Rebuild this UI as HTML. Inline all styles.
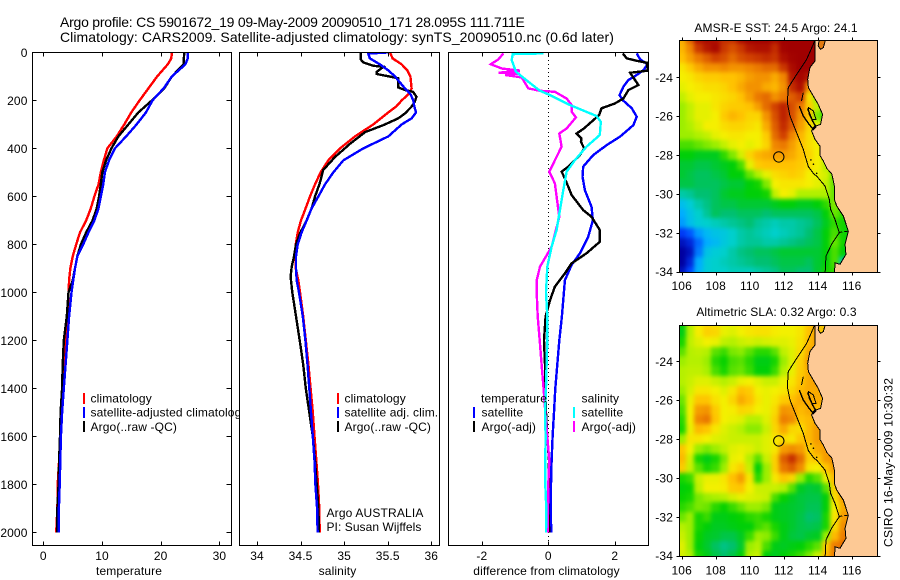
<!DOCTYPE html>
<html lang="en">
<head>
<meta charset="utf-8">
<title>Argo profile CS 5901672_19</title>
<style>
html,body{margin:0;padding:0;background:#fff;}
svg{display:block;}
text{font-family:"Liberation Sans",Arial,sans-serif;font-size:12px;fill:#000;letter-spacing:.12px;}
.box{fill:none;stroke:#000;stroke-width:1;shape-rendering:crispEdges;}
.bg{fill:#fff;}
.mk{shape-rendering:crispEdges;}
.line{fill:none;stroke-width:2.4;stroke-linejoin:miter;shape-rendering:crispEdges;}
.tick{stroke:#000;stroke-width:1;shape-rendering:crispEdges;}
.coast{fill:none;stroke:#000;stroke-width:1;shape-rendering:crispEdges;}
</style>
</head>
<body>
<svg id="figure" xmlns="http://www.w3.org/2000/svg" width="900" height="580" viewBox="0 0 900 580">
<defs>
<clipPath id="clip-temp"><rect x="32.5" y="52.5" width="199" height="493"/></clipPath>
<clipPath id="clip-sal"><rect x="239.5" y="52.5" width="200" height="493"/></clipPath>
<clipPath id="clip-diff"><rect x="448.5" y="52.5" width="200" height="493"/></clipPath>
<clipPath id="clip-sst"><rect x="679.5" y="40.5" width="198" height="232"/></clipPath>
<clipPath id="clip-sla"><rect x="679.5" y="325.5" width="198" height="231"/></clipPath>
<filter id="smooth" x="-5%" y="-5%" width="110%" height="110%" color-interpolation-filters="sRGB"><feGaussianBlur stdDeviation="2"/></filter>
</defs>

<rect x="0" y="0" width="900" height="580" fill="#fff"/>
<text x="60" y="27" style="font-size:14px" textLength="465">Argo profile: CS 5901672_19 09-May-2009 20090510_171 28.095S 111.711E</text>
<text x="60" y="42" style="font-size:14px" textLength="554">Climatology: CARS2009. Satellite-adjusted climatology: synTS_20090510.nc (0.6d later)</text>

<g>
<rect class="bg" x="32.5" y="52.5" width="199" height="493"/>
<g id="temp-series" clip-path="url(#clip-temp)"></g>
<rect class="box" x="32.5" y="52.5" width="199" height="493"/>
<g id="temp-ticks"></g>
<text x="129" y="575" text-anchor="middle">temperature</text>
<g>
<rect class="mk" x="83" y="393" width="2" height="11" fill="#f00"/>
<text x="90.5" y="402.5">climatology</text>
<rect class="mk" x="83" y="407" width="2" height="11" fill="#00f"/>
<text x="90.5" y="416.5">satellite-adjusted climatology</text>
<rect class="mk" x="83" y="421" width="2" height="11" fill="#000"/>
<text x="90.5" y="431">Argo(..raw -QC)</text>
</g>
</g>

<g>
<rect class="bg" x="239.5" y="52.5" width="200" height="493"/>
<g id="sal-series" clip-path="url(#clip-sal)"></g>
<rect class="box" x="239.5" y="52.5" width="200" height="493"/>
<g id="sal-ticks"></g>
<text x="337.5" y="575" text-anchor="middle">salinity</text>
<g>
<rect class="mk" x="337" y="393" width="2" height="11" fill="#f00"/>
<text x="344.5" y="402.5">climatology</text>
<rect class="mk" x="337" y="407" width="2" height="11" fill="#00f"/>
<text x="344.5" y="416.5">satellite adj. clim.</text>
<rect class="mk" x="337" y="421" width="2" height="11" fill="#000"/>
<text x="344.5" y="431">Argo(..raw -QC)</text>
</g>
<text x="326.5" y="517" textLength="97">Argo AUSTRALIA</text>
<text x="326.5" y="531" textLength="95">PI: Susan Wijffels</text>
</g>

<g>
<rect class="bg" x="448.5" y="52.5" width="200" height="493"/>
<g id="diff-series" clip-path="url(#clip-diff)"></g>
<rect class="box" x="448.5" y="52.5" width="200" height="493"/>
<g id="diff-ticks"></g>
<text x="546.5" y="575" text-anchor="middle">difference from climatology</text>
<g>
<text x="481" y="402.5">temperature</text>
<rect class="mk" x="473" y="407" width="2" height="11" fill="#00f"/>
<text x="481.5" y="416.5">satellite</text>
<rect class="mk" x="473" y="421" width="2" height="11" fill="#000"/>
<text x="481.5" y="431">Argo(-adj)</text>
<text x="581.5" y="402.5">salinity</text>
<rect class="mk" x="573" y="407" width="2" height="11" fill="#0ff"/>
<text x="581.5" y="416.5">satellite</text>
<rect class="mk" x="573" y="421" width="2" height="11" fill="#f0f"/>
<text x="581.5" y="431">Argo(-adj)</text>
</g>
</g>

<g>
<text x="776" y="32" text-anchor="middle">AMSR-E SST: 24.5 Argo: 24.1</text>
<rect x="679.5" y="40.5" width="198" height="232" fill="#fdc995"/>
<g id="sst-cells" clip-path="url(#clip-sst)" filter="url(#smooth)"></g>
<g id="sst-geo" clip-path="url(#clip-sst)"></g>
<rect class="box" x="679.5" y="40.5" width="198" height="232"/>
<g id="sst-ticks"></g>
</g>

<g>
<text x="776.5" y="316" text-anchor="middle">Altimetric SLA: 0.32 Argo: 0.3</text>
<rect x="679.5" y="325.5" width="198" height="231" fill="#fdc995"/>
<g id="sla-cells" clip-path="url(#clip-sla)" filter="url(#smooth)"></g>
<g id="sla-geo" clip-path="url(#clip-sla)"></g>
<rect class="box" x="679.5" y="325.5" width="198" height="231"/>
<g id="sla-ticks"></g>
</g>

<text transform="translate(892.5,462.5) rotate(-90)" text-anchor="middle" textLength="169">CSIRO 16-May-2009 10:30:32</text>
</svg>

<script>
/* ---------- profile data ---------- */
const tempDepths = [0,25,50,100,150,200,250,300,350,400,450,500,550,600,650,700,750,800,850,900,950,1000,1100,1200,1300,1400,1500,1600,1700,1800,1900,2000];
const tempClimatology = [21.9,21.8,21.2,19.4,17.9,16.4,15.0,13.8,12.5,10.9,10.3,9.8,9.4,8.7,8.1,7.3,6.25,5.6,5.0,4.6,4.4,4.3,4.15,3.9,3.7,3.4,3.2,2.95,2.7,2.45,2.4,2.2];
const tempSatellite = [24.6,24.6,24.2,21.9,20.5,18.6,17.5,15.9,14.1,12.2,11.2,10.5,10.2,9.8,9.4,8.7,7.7,6.8,5.8,5.4,5.1,4.8,4.4,4.1,3.8,3.5,3.2,3.0,2.9,2.8,2.65,2.6];
const tempArgo = [24.0,23.95,23.9,21.9,20.6,18.5,16.2,14.5,12.8,11.6,10.7,10.05,9.8,9.5,9.1,8.4,7.3,6.4,5.8,5.4,5.0,4.3,4.0,3.5,3.3,3.2,2.95,2.85,2.7,2.6,2.4,2.35];

const salClimDepths = [0,25,50,75,100,150,175,200,225,250,300,350,400,450,500,550,600,650,700,750,800,850,900,950,1000,1100,1200,1300,1400,1500,1600,1700,1800,1900,2000];
const salClimatology = [35.526,35.556,35.66,35.725,35.76,35.774,35.736,35.66,35.60,35.507,35.335,35.124,34.952,34.818,34.73,34.665,34.608,34.558,34.505,34.467,34.444,34.444,34.444,34.474,34.493,34.53,34.56,34.59,34.615,34.64,34.66,34.68,34.70,34.715,34.72];
const salSatDepths = [0,5,25,50,75,100,125,150,175,200,225,250,275,300,350,400,450,500,550,600,650,700,750,800,850,900,950,1000,1100,1200,1300,1400,1500,1600,1700,1800,1900,2000];
const salSatellite = [35.507,35.277,35.296,35.411,35.507,35.583,35.64,35.698,35.763,35.793,35.805,35.824,35.774,35.66,35.507,35.22,34.99,34.876,34.78,34.704,34.627,34.57,34.512,34.467,34.447,34.447,34.455,34.482,34.525,34.555,34.58,34.60,34.62,34.64,34.66,34.67,34.69,34.695];
const salArgoDepths = [0,29,42,56,60,81,90,101,108,146,157,164,185,206,226,254,275,303,332,381,436,490,546,601,650,699,754,800,851,893,935,1000,1100,1200,1300,1400,1500,1600,1700,1800,1900,2000];
const salArgo = [35.19,35.19,35.22,35.335,35.45,35.373,35.373,35.526,35.62,35.62,35.70,35.79,35.83,35.81,35.774,35.698,35.62,35.45,35.24,35.067,34.895,34.76,34.72,34.665,34.627,34.57,34.493,34.447,34.424,34.398,34.386,34.405,34.447,34.49,34.53,34.56,34.60,34.64,34.665,34.685,34.705,34.71];

const diffTempSatDepths = [4,29,49,74,94,115,143,178,199,233,268,303,351,386,428,476,518,574,643,699,768,837,886,949,1000,1100,1200,1300,1400,1500,1600,1700,1800,1900,2000];
const diffTempSat = [2.66,2.76,2.98,2.86,2.66,2.41,2.26,2.14,2.24,2.51,2.66,2.56,2.16,1.76,1.35,1.05,1.03,1.10,1.30,1.34,1.20,0.95,0.70,0.50,0.47,0.41,0.33,0.27,0.21,0.17,0.13,0.10,0.08,0.07,0.09];
const diffTempArgoDepths = [4,25,35,43,76,85,136,157,192,213,233,261,317,338,358,372,400,428,476,497,525,594,657,685,740,789,837,879,921,976,1033,1100,1200,1300,1400,1500,1600,1700,1800,1900,2000];
const diffTempArgo = [2.24,2.36,2.66,2.96,3.0,2.46,2.71,2.41,2.26,2.0,1.6,1.53,1.07,0.85,1.0,0.98,1.08,0.95,0.6,0.4,0.5,0.7,1.05,1.3,1.55,1.55,1.15,0.7,0.5,0.2,0.05,-0.08,-0.13,-0.1,-0.1,-0.07,-0.03,0.02,0.01,0,0.03];
const diffSalSatDepths = [4,7,32,81,122,160,178,219,265,289,344,393,449,497,574,657,740,810,893,1000,1100,1200,1300,1400,1500,1600,1700,1800,1900,2000];
const diffSalSat = [-0.15,-1.07,-1.10,-0.97,-0.60,-0.25,0.05,0.65,1.45,1.58,1.55,1.15,0.80,0.55,0.45,0.35,0.25,0.10,-0.03,-0.07,-0.03,-0.03,-0.05,-0.07,-0.1,-0.08,-0.09,-0.09,-0.06,-0.07];
const diffSalArgoDepths = [4,29,49,67,76,85,88,94,104,150,160,164,192,219,247,271,317,338,393,435,497,546,601,685,810,893,949,1000,1100,1200,1300,1400,1500,1600,1700,1800,1900,2000];
const diffSalArgo = [-1.35,-1.5,-1.73,-1.4,-0.85,-1.5,-0.85,-1.3,-0.8,-0.6,-0.25,0.2,0.55,0.7,0.7,0.83,0.55,0.33,0.4,0.25,0.03,0.2,0.25,0.33,0.1,-0.25,-0.35,-0.35,-0.32,-0.26,-0.2,-0.14,-0.09,-0.03,0.03,0,-0.01,-0.01];

/* ---------- tick labels ---------- */
const depthTicks = [0,200,400,600,800,1000,1200,1400,1600,1800,2000];
const tempTicks = [0,10,20,30];
const salTicks = [34,34.5,35,35.5,36];
const diffTicks = [-2,0,2];
const lonTicks = [106,108,110,112,114,116];
const latTicks = [24,26,28,30,32,34];

/* ---------- map data: rows at 22, 22.5 ... 34 S; columns at 106, 106.5 ... E ---------- */
const sstRow22 = [24.8,25.4,26.1,26.3,26.1,25.8,25.8,26.4,26.6,26.6,26.6,26.3,26.6,26.6,26.6,26.6,26.6];
const sstRow22h = [24.7,25.1,25.7,26.0,26.3,25.7,25.5,25.7,26.0,26.1,26.1,25.8,26.5,26.6,26.6,26.6,26.6];
const sstRow23 = [24.6,24.9,25.2,25.4,25.6,25.5,25.3,25.5,25.6,25.7,25.8,25.7,26.1,26.5,26.6,26.6,26.6];
const sstRow23h = [24.2,24.5,24.8,25.0,25.0,25.1,25.0,25.0,25.1,25.2,25.3,25.3,25.7,26.2,26.6,26.6];
const sstRow24 = [24.1,24.2,24.4,24.5,24.5,24.6,24.6,24.7,24.9,25.0,25.0,24.8,25.1,26.0,26.4,26.0];
const sstRow24h = [24.0,24.1,24.2,24.3,24.3,24.4,24.6,24.8,25.0,25.0,24.8,24.7,25.0,25.8,26.1,25.0,24.5];
const sstRow25 = [23.8,24.0,24.1,24.1,24.2,24.3,24.4,24.6,24.9,25.2,25.3,25.0,25.2,25.4,25.6,24.3,23.6,23.4];
const sstRow25h = [23.6,23.8,24.0,24.0,24.2,24.4,24.5,24.5,24.6,24.9,25.3,25.6,25.9,25.5,25.2,24.5,23.8,23.0,23.0];
const sstRow26 = [23.6,23.8,24.0,24.0,24.1,24.5,24.7,24.6,24.4,24.4,25.0,25.5,25.9,25.5,25.0,24.6,23.5,23.0,23.0];
const sstRow26h = [23.6,23.7,23.9,24.1,24.1,24.3,24.4,24.4,24.3,24.2,24.8,25.4,25.8,25.4,24.9,24.4,24.0,23.6];
const sstRow27 = [23.6,23.6,23.7,23.8,24.0,24.1,24.2,24.2,24.1,24.1,24.5,25.3,25.6,25.1,24.7,24.3,24.0,23.8];
const sstRow27h = [23.3,23.3,23.4,23.5,23.6,23.8,24.0,24.1,24.0,24.1,24.4,25.1,25.2,24.9,24.6,24.3,24.1,23.8];
const sstRow28 = [23.0,23.0,22.9,22.9,22.9,23.2,23.5,23.9,24.4,24.7,24.8,24.9,24.9,24.8,24.6,24.4,24.1,23.8];
const sstRow28h = [22.8,22.8,22.7,22.7,22.8,22.9,23.0,23.3,24.0,24.5,24.6,24.6,24.6,24.6,24.5,24.3,24.1,23.7,23.6];
const sstRow29 = [22.8,22.7,22.6,22.6,22.7,22.8,23.0,23.0,23.4,23.7,24.0,24.3,24.4,24.5,24.4,24.1,24.0,23.9,23.4,23.4];
const sstRow29h = [22.7,22.7,22.6,22.6,22.6,22.7,22.8,22.8,23.0,23.1,23.5,24.1,24.2,24.2,24.2,24.1,24.0,23.8,23.4,23.4];
const sstRow30 = [22.2,22.3,22.5,22.5,22.6,22.8,22.9,22.9,23.0,23.0,23.1,23.8,24.1,24.0,23.7,23.7,23.7,23.7,23.4,23.4];
const sstRow30h = [21.6,21.9,22.2,22.4,22.6,22.7,22.7,22.8,22.8,22.8,22.8,22.9,23.0,23.0,22.9,22.9,23.0,23.2,23.5,23.4];
const sstRow31 = [21.3,21.7,22.0,22.3,22.6,22.5,22.5,22.6,22.6,22.6,22.5,22.6,22.6,22.6,22.6,22.6,22.7,23.0,23.4,23.2,23.1];
const sstRow31h = [21.2,21.6,21.9,22.0,22.1,22.2,22.3,22.4,22.5,22.3,22.2,22.1,22.2,22.2,22.3,22.4,22.6,22.9,23.2,23.1,23.0];
const sstRow32 = [20.6,20.8,21.2,21.5,21.7,21.8,22.0,22.2,22.3,22.2,22.1,22.0,22.1,22.2,22.3,22.5,22.7,23.0,23.3,23.1,23.0];
const sstRow32h = [20.2,20.4,20.9,21.3,21.5,21.8,22.0,22.2,22.3,22.3,22.2,22.2,22.3,22.4,22.5,22.6,22.7,23.0,23.4,23.1,23.0];
const sstRow33 = [20.0,20.2,21.0,21.7,21.9,22.0,22.2,22.4,22.5,22.6,22.6,22.7,22.8,22.8,22.8,22.8,22.8,23.0,23.3,23.0,22.8];
const sstRow33h = [20.0,20.4,21.3,21.9,22.0,22.1,22.2,22.3,22.4,22.5,22.5,22.6,22.7,22.7,22.7,22.6,22.8,23.0,23.3,22.2,22.2];
const sstRow34 = [20.2,20.7,21.4,21.9,22.0,22.0,22.1,22.1,22.1,22.2,22.3,22.4,22.6,22.6,22.5,22.5,22.8,23.1,23.2,23.2];
const sstRows = [sstRow22,sstRow22h,sstRow23,sstRow23h,sstRow24,sstRow24h,sstRow25,sstRow25h,sstRow26,sstRow26h,sstRow27,sstRow27h,sstRow28,sstRow28h,sstRow29,sstRow29h,sstRow30,sstRow30h,sstRow31,sstRow31h,sstRow32,sstRow32h,sstRow33,sstRow33h,sstRow34];

const slaRow22 = [.10,.22,.28,.33,.30,.27,.27,.30,.31,.32,.31,.30,.28,.28,.30,.36,.42,.42];
const slaRow22h = [.09,.22,.29,.34,.33,.27,.26,.28,.30,.31,.31,.29,.28,.28,.30,.37,.42,.42];
const slaRow23 = [.12,.23,.26,.28,.27,.23,.22,.24,.25,.24,.25,.26,.26,.27,.31,.38,.42,.42];
const slaRow23h = [.16,.22,.23,.22,.16,.14,.18,.19,.16,.13,.13,.16,.23,.26,.32,.40,.40];
const slaRow24 = [.20,.22,.22,.20,.13,.11,.15,.16,.13,.09,.09,.12,.20,.26,.34,.42,.42];
const slaRow24h = [.22,.23,.23,.21,.15,.12,.16,.17,.14,.10,.10,.14,.22,.27,.35,.40,.40];
const slaRow25 = [.22,.24,.26,.26,.24,.22,.24,.27,.28,.26,.24,.24,.27,.30,.36,.40,.42,.42];
const slaRow25h = [.20,.25,.30,.30,.28,.26,.30,.37,.35,.28,.27,.28,.30,.33,.38,.40,.40,.40,.40];
const slaRow26 = [.17,.27,.36,.36,.31,.28,.33,.40,.37,.30,.27,.30,.35,.37,.40,.40,.40,.40,.40];
const slaRow26h = [.15,.28,.42,.43,.35,.28,.29,.33,.32,.28,.27,.32,.43,.42,.38,.40,.38,.38];
const slaRow27 = [.13,.28,.45,.47,.36,.28,.27,.26,.22,.22,.26,.34,.46,.44,.36,.38,.40,.40];
const slaRow27h = [.12,.27,.38,.36,.30,.26,.24,.22,.19,.19,.24,.33,.40,.33,.32,.38,.42,.42];
const slaRow28 = [.20,.30,.30,.28,.26,.25,.24,.24,.24,.24,.26,.30,.32,.30,.36,.38,.42,.42];
const slaRow28h = [.36,.28,.20,.18,.20,.23,.26,.27,.26,.24,.26,.30,.42,.44,.42,.34,.40,.42,.42];
const slaRow29 = [.38,.25,.12,.09,.12,.18,.27,.28,.22,.16,.24,.34,.50,.56,.48,.34,.36,.42,.44,.44];
const slaRow29h = [.35,.24,.16,.12,.14,.20,.30,.34,.24,.10,.20,.34,.47,.50,.44,.30,.28,.36,.42,.44];
const slaRow30 = [.12,.14,.24,.27,.27,.30,.37,.42,.30,.13,.20,.30,.36,.33,.20,.13,.16,.27,.38,.42];
const slaRow30h = [.10,.11,.23,.28,.28,.29,.35,.36,.28,.24,.24,.24,.22,.16,.08,.06,.07,.16,.34,.42];
const slaRow31 = [.11,.12,.18,.20,.21,.22,.25,.27,.26,.25,.24,.15,.11,.08,.06,.05,.05,.10,.32,.42,.42];
const slaRow31h = [.13,.15,.18,.17,.13,.11,.14,.17,.20,.20,.18,.09,.08,.07,.06,.04,.04,.10,.28,.40,.42];
const slaRow32 = [.17,.20,.12,.14,.09,.09,.10,.11,.13,.14,.12,.09,.08,.07,.05,.02,.03,.12,.30,.42,.44];
const slaRow32h = [.22,.20,.12,.10,.08,.08,.09,.10,.10,.14,.16,.12,.09,.07,.05,.04,.05,.12,.32,.44,.46];
const slaRow33 = [.24,.20,.11,.08,.07,.05,.05,.08,.14,.20,.19,.14,.09,.06,.05,.07,.08,.20,.38,.46,.46];
const slaRow33h = [.26,.20,.10,.07,.03,.00,.02,.07,.20,.22,.15,.09,.08,.09,.10,.13,.16,.34,.46,.48,.48];
const slaRow34 = [.25,.22,.12,.09,.05,.02,.05,.10,.22,.24,.10,.08,.10,.12,.14,.18,.24,.38,.46,.46];
const slaRows = [slaRow22,slaRow22h,slaRow23,slaRow23h,slaRow24,slaRow24h,slaRow25,slaRow25h,slaRow26,slaRow26h,slaRow27,slaRow27h,slaRow28,slaRow28h,slaRow29,slaRow29h,slaRow30,slaRow30h,slaRow31,slaRow31h,slaRow32,slaRow32h,slaRow33,slaRow33h,slaRow34];

/* ---------- geography (degrees E, degrees S) ---------- */
const coastLon = [113.84,113.84,113.54,113.41,113.45,113.74,114.03,114.29,114.17,113.78,113.64,113.84,114.13,114.13,114.33,114.55,114.82,114.86,114.98,114.98,115.12,115.51,115.80,115.61,115.66,115.31,115.02,114.98];
const coastLat = [22.05,23.16,23.50,24.10,24.53,24.96,25.39,25.91,26.42,26.54,26.76,27.19,27.54,28.02,28.30,28.70,28.95,29.08,29.59,30.28,30.62,31.14,31.91,32.59,33.11,33.62,33.54,34.2];
const isobathLon = [113.84,113.74,113.35,112.76,112.27,112.21,112.37,112.76,113.15,113.25,113.45,113.80,113.94,114.43,114.68,114.76,115.02,115.27,114.82,114.49,114.43];
const isobathLat = [22.05,22.30,23.08,23.85,24.53,25.31,25.99,26.85,27.71,28.02,28.60,29.00,29.08,29.59,30.28,30.79,31.31,32.00,32.59,33.19,34.2];
const gulfLon = [114.09,114.47,114.33,114.17,114.03];
const gulfLat = [22.05,22.05,22.47,22.56,22.39];
const bayNorthLon = [113.15,113.05];
const bayNorthLat = [24.79,25.22];
const bayLon = [112.92,113.15,113.45,113.74,113.90,113.70,113.40];
const bayLat = [25.48,25.99,26.37,26.68,26.55,26.25,25.60];
const bayIslandLon = [113.45,113.74,113.90,113.64,113.50,113.45];
const bayIslandLat = [25.56,25.73,26.16,26.16,25.90,25.56];
const rottnestLon = [115.27,115.80];
const rottnestLat = [31.98,31.91];
const abrolhosLon = [113.60,113.75,113.94];
const abrolhosLat = [28.25,28.47,28.94];
const floatLon = 111.711;
const floatLat = 28.095;

/* ---------- axis functions ---------- */
const depthY = d => 52.4 + d * 0.24;
const tempX = t => 43.3 + t * 5.87;
const salX = s => 257 + (s - 34) * 87.15;
const diffX = v => 548.3 + v * 33.25;
const lonX = lon => 681.7 + (lon - 106) * 17;
const sstY = lat => 77.3 + (lat - 24) * 19.44;
const slaY = lat => 361.3 + (lat - 24) * 19.44;

const NS = 'http://www.w3.org/2000/svg';
function add(parent, tag, attrs) {
  const el = document.createElementNS(NS, tag);
  for (const k in attrs) el.setAttribute(k, attrs[k]);
  parent.appendChild(el);
  return el;
}
function seriesPath(xs, ds, xf) {
  return xs.map((v, i) => (i ? 'L' : 'M') + xf(v).toFixed(1) + ' ' + depthY(ds[i]).toFixed(1)).join('');
}
function drawSeries(groupId, name, xs, ds, xf, colour) {
  const p = add(document.getElementById(groupId), 'path', {d: seriesPath(xs, ds, xf), class: 'line', stroke: colour});
  
  
}

/* ---------- profile lines ---------- */
drawSeries('temp-series', 'temperature-climatology-line', tempClimatology, tempDepths, tempX, '#f00');
drawSeries('temp-series', 'temperature-argo-line', tempArgo, tempDepths, tempX, '#000');
drawSeries('temp-series', 'temperature-satellite-line', tempSatellite, tempDepths, tempX, '#00f');
drawSeries('sal-series', 'salinity-climatology-line', salClimatology, salClimDepths, salX, '#f00');
drawSeries('sal-series', 'salinity-argo-line', salArgo, salArgoDepths, salX, '#000');
drawSeries('sal-series', 'salinity-satellite-line', salSatellite, salSatDepths, salX, '#00f');

const zero = add(document.getElementById('diff-series'), 'line', {x1: diffX(0), x2: diffX(0), y1: 52, y2: 546, stroke: '#000', 'stroke-width': 1, 'stroke-dasharray': '1 3', 'shape-rendering': 'crispEdges'});


drawSeries('diff-series', 'difference-temperature-satellite-line', diffTempSat, diffTempSatDepths, diffX, '#00f');
drawSeries('diff-series', 'difference-temperature-argo-line', diffTempArgo, diffTempArgoDepths, diffX, '#000');
drawSeries('diff-series', 'difference-salinity-argo-line', diffSalArgo, diffSalArgoDepths, diffX, '#f0f');
drawSeries('diff-series', 'difference-salinity-satellite-line', diffSalSat, diffSalSatDepths, diffX, '#0ff');

/* ---------- profile axes ---------- */
function xAxis(groupId, ticks, xf) {
  const g = document.getElementById(groupId);
  ticks.forEach(v => {
    const x = Math.round(xf(v)) + 0.5;
    const top = add(g, 'line', {x1: x, x2: x, y1: 52.5, y2: 56.5, class: 'tick'});
    
    
    const bottom = add(g, 'line', {x1: x, x2: x, y1: 541.5, y2: 545.5, class: 'tick'});
    
    
    const label = add(g, 'text', {x: xf(v), y: 560, 'text-anchor': 'middle'});
    label.textContent = String(v);
    
    
  });
}
xAxis('temp-ticks', tempTicks, tempX);
xAxis('sal-ticks', salTicks, salX);
xAxis('diff-ticks', diffTicks, diffX);

const tempTickGroup = document.getElementById('temp-ticks');
depthTicks.forEach(d => {
  const y = Math.round(depthY(d)) + 0.5;
  if (d > 0) {
    const left = add(tempTickGroup, 'line', {x1: 32.5, x2: 36.5, y1: y, y2: y, class: 'tick'});
    
    
    const right = add(tempTickGroup, 'line', {x1: 226.5, x2: 231.5, y1: y, y2: y, class: 'tick'});
    
    
  }
  const label = add(tempTickGroup, 'text', {x: 27.5, y: depthY(d) + 4.5, 'text-anchor': 'end'});
  label.textContent = String(d);
  
  
});

/* ---------- colour scale ---------- */
const colourStops = [0,.1,.2,.3,.38,.46,.55,.62,.7,.78,.85,.92,1];
const colourRed = [0,0,0,0,0,0,165,245,255,238,208,176,160];
const colourGreen = [0,64,176,208,192,208,240,240,192,128,64,16,0];
const colourBlue = [160,255,255,208,112,0,0,0,0,0,0,0,0];
function colourAt(t) {
  const c = Math.max(0, Math.min(1, t));
  let i = 0;
  while (i < colourStops.length - 2 && c > colourStops[i + 1]) i++;
  const f = (c - colourStops[i]) / (colourStops[i + 1] - colourStops[i]);
  const mix = a => Math.round(a[i] + (a[i + 1] - a[i]) * f);
  return 'rgb(' + mix(colourRed) + ',' + mix(colourGreen) + ',' + mix(colourBlue) + ')';
}

/* ---------- maps ---------- */
function drawCells(groupId, rows, yf, vmin, vmax, name) {
  const g = document.getElementById(groupId);
  rows.forEach((row, j) => {
    const lat = 22 + j * 0.5;
    let y0 = Math.round(yf(lat - 0.25));
    let y1 = Math.round(yf(lat + 0.25));
    if (j === 0) y0 -= 20;
    if (j === rows.length - 1) y1 += 20;
    row.forEach((v, i) => {
      const lon = 106 + i * 0.5;
      let x0 = Math.round(lonX(lon - 0.25));
      let x1 = Math.round(lonX(lon + 0.25));
      if (i === 0) x0 -= 20;
      if (i === row.length - 1) x1 += 10;
      const cell = add(g, 'rect', {x: x0, y: y0, width: x1 - x0, height: y1 - y0, fill: colourAt((v - vmin) / (vmax - vmin)), 'shape-rendering': 'crispEdges'});
      
      
    });
  });
}
drawCells('sst-cells', sstRows, sstY, 20, 26.6, 'sst-cell');
drawCells('sla-cells', slaRows, slaY, -0.4, 0.7, 'sla-cell');

function pts(lons, lats, yf) {
  return lons.map((v, i) => lonX(v).toFixed(1) + ',' + yf(lats[i]).toFixed(1)).join(' ');
}
function drawGeo(groupId, yf, gulfFill) {
  const g = document.getElementById(groupId);
  const landPts = pts(coastLon, coastLat, yf) + ' ' + lonX(119) + ',' + yf(34.2) + ' ' + lonX(119) + ',' + yf(22.05);
  const land = add(g, 'polygon', {points: landPts, fill: '#fdc995', stroke: 'none'});
  
  
  const coast = add(g, 'polyline', {points: pts(coastLon, coastLat, yf), class: 'coast'});
  
  
  const iso = add(g, 'polyline', {points: pts(isobathLon, isobathLat, yf), class: 'coast'});
  
  
  const gulf = add(g, 'polygon', {points: pts(gulfLon, gulfLat, yf), fill: gulfFill, stroke: '#000', 'stroke-width': 1, 'shape-rendering': 'crispEdges'});
  
  
  const bayN = add(g, 'polyline', {points: pts(bayNorthLon, bayNorthLat, yf), class: 'coast'});
  
  
  const bay = add(g, 'polyline', {points: pts(bayLon, bayLat, yf), class: 'coast', style: 'stroke-width:1.4'});
  
  
  const island = add(g, 'polygon', {points: pts(bayIslandLon, bayIslandLat, yf), class: 'coast'});
  
  
  const rott = add(g, 'polyline', {points: pts(rottnestLon, rottnestLat, yf), class: 'coast', 'stroke-dasharray': '3 2'});
  
  
  abrolhosLon.forEach((lon, i) => {
    const dot = add(g, 'circle', {cx: lonX(lon), cy: yf(abrolhosLat[i]), r: 0.8, fill: '#000'});
    
    
  });
  const marker = add(g, 'circle', {cx: lonX(floatLon), cy: yf(floatLat), r: 5.2, fill: 'none', stroke: '#000', 'stroke-width': 1});
  
  
}
drawGeo('sst-geo', sstY, '#e07a10');
drawGeo('sla-geo', slaY, '#f7c400');

function mapTicks(groupId, yf, top, bottom, labelY) {
  const g = document.getElementById(groupId);
  lonTicks.forEach(lon => {
    const x = Math.round(lonX(lon)) + 0.5;
    const a = add(g, 'line', {x1: x, x2: x, y1: top - 3, y2: top, class: 'tick'});
    
    
    const b = add(g, 'line', {x1: x, x2: x, y1: bottom, y2: bottom + 3, class: 'tick'});
    
    
    const t = add(g, 'text', {x: lonX(lon), y: labelY, 'text-anchor': 'middle'});
    t.textContent = String(lon);
    
    
  });
  latTicks.forEach(lat => {
    const y = Math.round(yf(lat)) + 0.5;
    const a = add(g, 'line', {x1: 676.5, x2: 679.5, y1: y, y2: y, class: 'tick'});
    
    
    const b = add(g, 'line', {x1: 877.5, x2: 880.5, y1: y, y2: y, class: 'tick'});
    
    
    const t = add(g, 'text', {x: 673, y: yf(lat) + 4.5, 'text-anchor': 'end'});
    t.textContent = '-' + lat;
    
    
  });
}
mapTicks('sst-ticks', sstY, 40.5, 272.5, 290);
mapTicks('sla-ticks', slaY, 325.5, 556.5, 574.5);
</script>
</body>
</html>
